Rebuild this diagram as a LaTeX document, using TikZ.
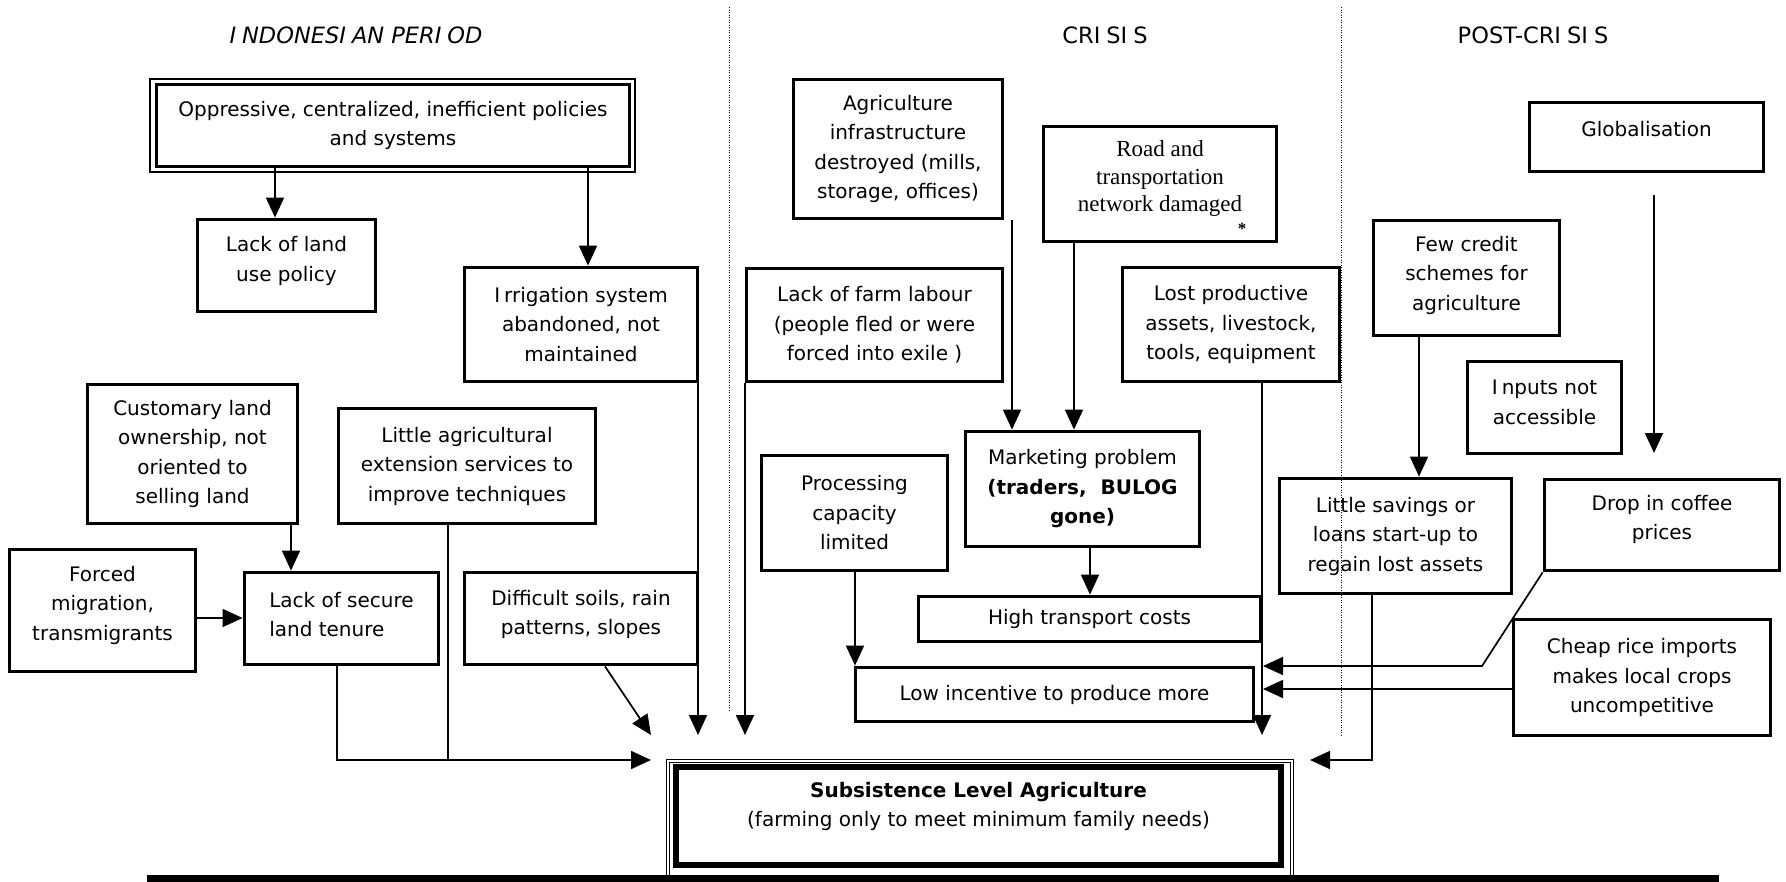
\documentclass[tikz,border=0pt]{standalone}
\usepackage{fontspec}
\setmainfont{DejaVu Sans}
\newfontfamily\serifface{Liberation Serif}
\usetikzlibrary{arrows.meta}
% capital I followed by the wide gap of the original typeface
\newcommand\gapI{I\kern4pt\relax}
\newcommand\wideI{I\kern6pt\relax}
% extra depth on the last line lifts a centred block of text
\newcommand\lift[1]{\rule[-#1pt]{0pt}{0pt}}

\begin{document}
\begin{tikzpicture}[x=1pt,y=-1pt,
  box/.style={draw, line width=3.8pt, align=center, inner sep=0pt,
    font=\fontsize{20}{29.5}\selectfont},
  sz/.style 2 args={minimum width=#1pt, minimum height=#2pt},
  conn/.style={line width=1.7pt},
  arr/.style={conn, -{Triangle[length=20pt,width=18pt]}},
  sep/.style={line width=1pt, dash pattern=on 1pt off 1.5pt},
  period/.style={font=\fontsize{22.5}{27}\selectfont},
]
\fill[white] (0,0) rectangle (1786,881);
\useasboundingbox (0,0) rectangle (1786,881);

% period headings and separators
\node[period, font=\fontsize{22.5}{27}\selectfont\itshape] (tIndo) at (356,35)
  {\wideI NDONES\wideI AN PER\wideI OD};
\node[period] (tCrisis) at (1105,35) {CR\wideI S\wideI S};
\node[period] (tPost) at (1533,35) {POST-CR\wideI S\wideI S};
\draw[sep] (729,7) -- (729,712);
\draw[sep] (1341,7) -- (1341,735);

% Indonesian period
\node[box, line width=3pt, sz={473}{82}] (opp) at (393,125.5)
  {Oppressive, centralized, inefficient policies\\and systems};
\draw[line width=1.5pt] (150,79) rectangle (635,172);
\node[box, sz={178}{92}] (landpol) at (286.5,265.5) {Lack of land\\use policy\lift{13}};
\node[box, sz={233}{114}] (irrig) at (581,324.5) {\gapI rrigation system\\abandoned, not\\maintained};
\node[box, sz={210}{139}] (cust) at (192.5,454) {Customary land\\ownership, not\\oriented to\\selling land};
\node[box, sz={257}{115}] (ext) at (467,466) {Little agricultural\\extension services to\\improve techniques};
\node[box, sz={186}{122}] (forced) at (102.5,610.5) {Forced\\migration,\\transmigrants\lift{15}};
\node[box, align=left, sz={194}{92}] (tenure) at (341.5,618.5) {Lack of secure\\land tenure\lift{8}};
\node[box, sz={233}{92}] (soils) at (581,618.5) {Difficult soils, rain\\patterns, slopes\lift{12}};

% crisis
\node[box, sz={209}{139}] (agri) at (898,149) {Agriculture\\infrastructure\\destroyed (mills,\\storage, offices)};
\node[box, sz={233}{115}, font=\serifface\fontsize{23}{27.5}\selectfont] (road) at (1160,184)
  {Road and\\transportation\\network damaged\lift{15}};
\node[font=\serifface\bfseries\fontsize{17}{17}\selectfont] (ast) at (1242,229) {*};
\node[box, sz={256}{113}] (labour) at (874.5,325) {Lack of farm labour\\(people fled or were\\forced into exile )};
\node[box, sz={217}{114}] (lost) at (1231,324.5) {Lost productive\\assets, livestock,\\tools, equipment};
\node[box, sz={234}{115}] (mkt) at (1082.5,489) {Marketing problem\\\textbf{(traders,\ \ BULOG}\\\textbf{gone)}};
\node[box, sz={186}{115}] (proc) at (854.5,513) {Processing\\capacity\\limited};
\node[box, sz={342}{45}] (transp) at (1089.5,619) {High transport costs};
\node[box, sz={398}{54}] (incent) at (1054.5,694.5) {Low incentive to produce more};

% post-crisis
\node[box, sz={234}{69}] (glob) at (1646.5,137) {Globalisation\lift{16}};
\node[box, sz={186}{115}] (credit) at (1466.5,278) {Few credit\\schemes for\\agriculture\lift{10}};
\node[box, sz={154}{92}] (inputs) at (1544.5,407.5) {\gapI nputs not\\accessible\lift{11}};
\node[box, sz={232}{115}] (savings) at (1395.5,536) {Little savings or\\loans start-up to\\regain lost assets};
\node[box, sz={235}{91}] (coffee) at (1662,525) {Drop in coffee\\prices\lift{15}};
\node[box, sz={257}{116}] (rice) at (1642,677.5) {Cheap rice imports\\makes local crops\\uncompetitive};

% central problem
\node[box, line width=6pt, sz={605}{98}] (sub) at (978.5,816)
  {\textbf{Subsistence Level Agriculture}\\(farming only to meet minimum family needs)\lift{23}};
\draw[line width=1.2pt] (666.5,875) -- (666.5,759.5) -- (1293.5,759.5) -- (1293.5,875);
\draw[line width=1.2pt] (669.5,875) -- (669.5,762.5) -- (1290.5,762.5) -- (1290.5,875);
\draw[line width=12pt] (147,881) -- (1719,881);

% free ends of connectors
\coordinate (inL) at (651,760);
\coordinate (inR) at (1310,760);
\coordinate (inSoil) at (651,735);
\coordinate (inIrr) at (698,735);
\coordinate (inLab) at (745,735);
\coordinate (inLost) at (1262,735);
\coordinate (joinExt) at (448,760);
\coordinate (globTop) at (1654,195);
\coordinate (globTip) at (1654,453);
\coordinate (coffeeBend) at (1482,666);
\coordinate (inCoffee) at (1263,666);
\coordinate (inRice) at (1263,689);

% connectors
\draw[arr] (275,0 |- opp.south) -- (275,0 |- landpol.north);
\draw[arr] (588,0 |- opp.south) -- (588,0 |- irrig.north);
\draw[arr] (291,0 |- cust.south) -- (291,0 |- tenure.north);
\draw[arr] (forced.east |- 0,618) -- (tenure.west |- 0,618);
\draw[arr] (337,0 |- tenure.south) |- (inL);
\draw[conn] (448,0 |- ext.south) -- (joinExt);
\draw[arr] (605,0 |- soils.south) -- (inSoil);
\draw[arr] (698,0 |- irrig.south) -- (inIrr);
\draw[arr] (745,0 |- labour.south) -- (inLab);
\draw[arr] (1012,0 |- agri.south) -- (1012,0 |- mkt.north);
\draw[arr] (1074,0 |- road.south) -- (1074,0 |- mkt.north);
\draw[arr] (1090,0 |- mkt.south) -- (1090,0 |- transp.north);
\draw[arr] (855,0 |- proc.south) -- (855,0 |- incent.north);
\draw[arr] (1262,0 |- lost.south) -- (inLost);
\draw[arr] (1419,0 |- credit.south) -- (1419,0 |- savings.north);
\draw[arr] (globTop) -- (globTip);
\draw[arr] (1372,0 |- savings.south) |- (inR);
\draw[arr] (coffee.south west) -- (coffeeBend) -- (inCoffee);
\draw[arr] (rice.west |- inRice) -- (inRice);
\end{tikzpicture}
\end{document}
